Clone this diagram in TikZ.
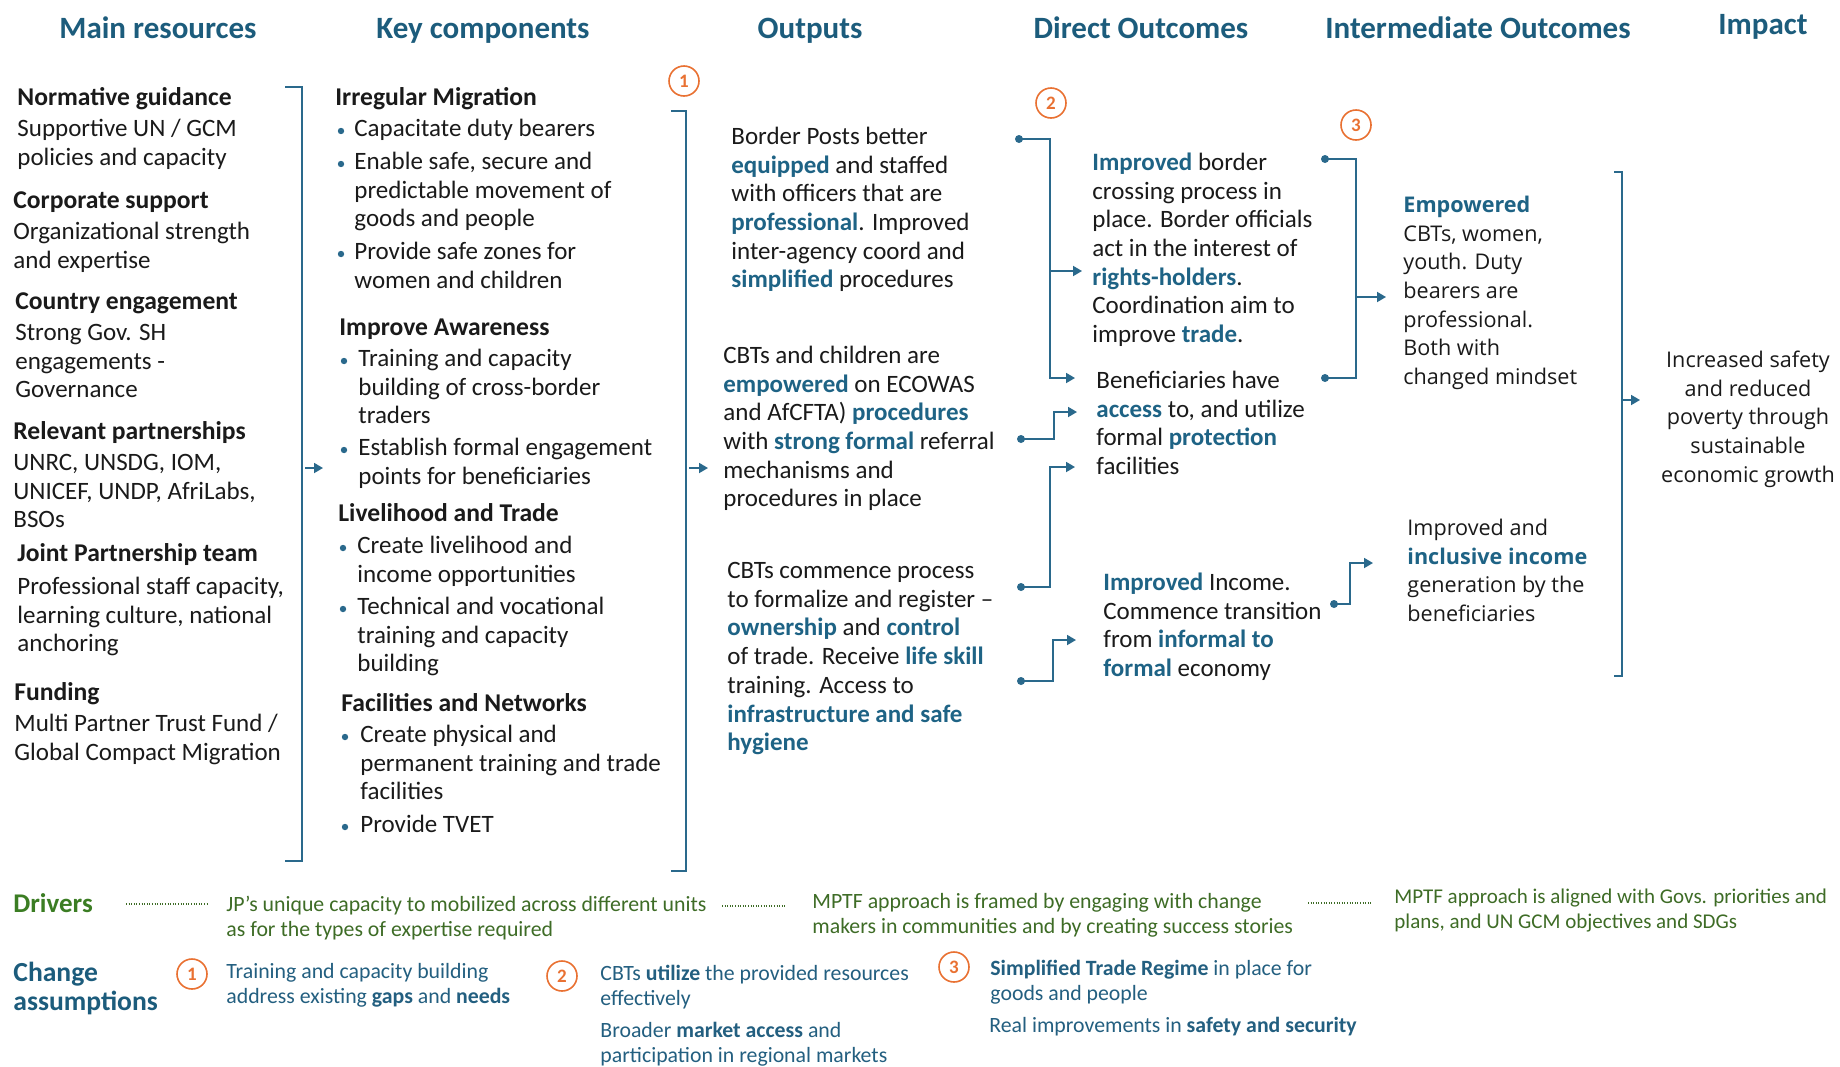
\documentclass[tikz,border=0pt]{standalone}
\usepackage{fontspec}
\setmainfont{Carlito}
\newfontfamily\widefont{Open Sans}
\usetikzlibrary{arrows.meta}

\definecolor{headc}{RGB}{28,92,124}
\definecolor{hlc}{RGB}{30,99,133}
\definecolor{linec}{RGB}{42,105,140}
\definecolor{orng}{RGB}{233,113,50}
\definecolor{grn}{RGB}{59,125,35}
\definecolor{grntext}{RGB}{62,108,38}
\definecolor{catext}{RGB}{35,95,128}
\definecolor{ink}{RGB}{26,26,26}

\newcommand{\hl}[1]{\textbf{\textcolor{hlc}{#1}}}

\tikzset{
  hdr/.style={font=\fontsize{15.5}{18}\selectfont\bfseries, text=headc, inner sep=0pt, anchor=base},
  ttl/.style={font=\fontsize{12.8}{15}\selectfont\bfseries, text=ink, inner sep=0pt, anchor=base west},
  body/.style={font=\fontsize{12.5}{14.35}\selectfont, text=ink, align=left, inner sep=0pt, anchor=north west},
  wbody/.style={font=\widefont\fontsize{10.8}{14.35}\selectfont, text=ink, align=left, inner sep=0pt, anchor=north west},
  note/.style={font=\fontsize{10.9}{12.5}\selectfont, align=left, inner sep=0pt, anchor=north west},
  rowlabel/.style={font=\fontsize{13.8}{14.5}\selectfont\bfseries, align=left, inner sep=0pt, anchor=north west},
  num/.style={circle, draw=orng, line width=0.8pt, minimum size=15pt, inner sep=0pt, text=orng,
              font=\fontsize{9.5}{11}\selectfont\bfseries},
  link/.style={draw=linec, line width=0.9pt},
  arr/.style={-{Triangle[length=4.5pt,width=5pt]}},
  dotline/.style={draw=grntext, line width=0.7pt, dash pattern=on 0.5pt off 0.8pt},
  bul/.style={fill=linec}
}

\begin{document}
\begin{tikzpicture}[x=0.5pt,y=-0.5pt]
\useasboundingbox (0,0) rectangle (1840,1066);
\fill[white] (0,0) rectangle (1840,1066);

% ---------- column headings ----------
\node[hdr] (h1) at (158,38) {Main resources};
\node[hdr] (h2) at (483,38) {Key components};
\node[hdr] (h3) at (810,38) {Outputs};
\node[hdr] (h4) at (1141,38) {Direct Outcomes};
\node[hdr] (h5) at (1478,38) {Intermediate Outcomes};
\node[hdr] (h6) at (1763,34) {Impact};

% ---------- main resources ----------
\node[ttl] (ng) at (17,105) {Normative guidance};
\node[body] (ngb) at (17,116) {\strut Supportive UN / GCM\\policies and capacity};
\node[ttl] (cs) at (13,208) {Corporate support};
\node[body] (csb) at (13,219) {\strut Organizational strength\\and expertise};
\node[ttl] (ce) at (15,309) {Country engagement};
\node[body] (ceb) at (15,320) {\strut Strong Gov. SH\\engagements -\\Governance};
\node[ttl] (rp) at (13,439) {Relevant partnerships};
\node[body] (rpb) at (13,450) {\strut UNRC, UNSDG, IOM,\\UNICEF, UNDP, AfriLabs,\\BSOs};
\node[ttl] (jp) at (17,561) {Joint Partnership team};
\node[body] (jpb) at (17,574) {\strut Professional staff capacity,\\learning culture, national\\anchoring};
\node[ttl] (fu) at (14,700) {Funding};
\node[body] (fub) at (14,711) {\strut Multi Partner Trust Fund /\\Global Compact Migration};

% ---------- key components ----------
\node[ttl] (im) at (335,105) {Irregular Migration};
\node[body] (im1) at (354,116) {\strut Capacitate duty bearers};
\node[body] (im2) at (354,149) {\strut Enable safe, secure and\\predictable movement of\\goods and people};
\node[body] (im3) at (354,239) {\strut Provide safe zones for\\women and children};
\fill[bul] (341,131) circle[radius=1.6pt];
\fill[bul] (341,164) circle[radius=1.6pt];
\fill[bul] (341,254) circle[radius=1.6pt];

\node[ttl] (ia) at (339,335) {Improve Awareness};
\node[body] (ia1) at (358,346) {\strut Training and capacity\\building of cross-border\\traders};
\node[body] (ia2) at (358,435) {\strut Establish formal engagement\\points for beneficiaries};
\fill[bul] (344,361) circle[radius=1.6pt];
\fill[bul] (344,450) circle[radius=1.6pt];

\node[ttl] (lt) at (338,521) {Livelihood and Trade};
\node[body] (lt1) at (357,533) {\strut Create livelihood and\\income opportunities};
\node[body] (lt2) at (357,594) {\strut Technical and vocational\\training and capacity\\building};
\fill[bul] (343,548) circle[radius=1.6pt];
\fill[bul] (343,609) circle[radius=1.6pt];

\node[ttl] (fn) at (341,711) {Facilities and Networks};
\node[body] (fn1) at (360,722) {\strut Create physical and\\permanent training and trade\\facilities};
\node[body] (fn2) at (360,812) {\strut Provide TVET};
\fill[bul] (345,737) circle[radius=1.6pt];
\fill[bul] (345,827) circle[radius=1.6pt];

% ---------- outputs ----------
\node[body] (o1) at (731,124) {\strut Border Posts better\\\hl{equipped} and staffed\\with officers that are\\\hl{professional}. Improved\\inter-agency coord and\\\hl{simplified} procedures};
\node[body] (o2) at (723,343) {\strut CBTs and children are\\\hl{empowered} on ECOWAS\\and AfCFTA) \hl{procedures}\\with \hl{strong formal} referral\\mechanisms and\\procedures in place};
\node[body] (o3) at (727,558) {\strut CBTs commence process\\to formalize and register --\\\hl{ownership} and \hl{control}\\of trade. Receive \hl{life skill}\\training. Access to\\\hl{infrastructure and safe}\\\hl{hygiene}};

% ---------- direct outcomes ----------
\node[body] (d1) at (1092,150) {\strut \hl{Improved} border\\crossing process in\\place. Border officials\\act in the interest of\\\hl{rights-holders}.\\Coordination aim to\\improve \hl{trade}.};
\node[body] (d2) at (1096,368) {\strut Beneficiaries have\\\hl{access} to, and utilize\\formal \hl{protection}\\facilities};
\node[body] (d3) at (1103,570) {\strut \hl{Improved} Income.\\Commence transition\\from \hl{informal to}\\\hl{formal} economy};

% ---------- intermediate outcomes ----------
\node[wbody] (i1) at (1403,192) {\strut \hl{Empowered}\\CBTs, women,\\youth. Duty\\bearers are\\professional.\\Both with\\changed mindset};
\node[wbody] (i2) at (1407,515) {\strut Improved and\\\hl{inclusive income}\\generation by the\\beneficiaries};

% ---------- impact ----------
\node[wbody, align=center, anchor=north] (imp) at (1748,347) {\strut Increased safety\\and reduced\\poverty through\\sustainable\\economic growth};

% ---------- numbered markers ----------
\node[num] (c1) at (684,81) {1};
\node[num] (c2) at (1051,103) {2};
\node[num] (c3) at (1356,125) {3};

% ---------- brackets ----------
\coordinate (lbT) at (285,87);  \coordinate (lbB) at (285,861);
\draw[link] (lbT) -- (302,87) -- (302,861) -- (lbB);
\coordinate (lbA) at (305,468); \coordinate (lbE) at (323,468);
\draw[link,arr] (lbA) -- (lbE);

\coordinate (kbT) at (671,111); \coordinate (kbB) at (671,871);
\draw[link] (kbT) -- (686,111) -- (686,871) -- (kbB);
\coordinate (kbA) at (689,468); \coordinate (kbE) at (708,468);
\draw[link,arr] (kbA) -- (kbE);

\coordinate (pbT) at (1614,172); \coordinate (pbB) at (1614,676);
\draw[link] (pbT) -- (1622,172) -- (1622,676) -- (pbB);
\coordinate (pbA) at (1622,400); \coordinate (pbE) at (1640,400);
\draw[link,arr] (pbA) -- (pbE);

% ---------- output -> direct outcome links ----------
\coordinate (oa) at (1019,139); \coordinate (oaE) at (1075,378);
\draw[link,arr] (oa) -- (1050,139) -- (1050,378) -- (oaE);
\coordinate (obr) at (1051,271); \coordinate (obrE) at (1082,271);
\draw[link,arr] (obr) -- (obrE);
\fill[linec] (oa) circle[radius=2pt];

\coordinate (ob) at (1021,439); \coordinate (obE) at (1077,412);
\draw[link,arr] (ob) -- (1054,439) -- (1054,412) -- (obE);
\fill[linec] (ob) circle[radius=2pt];

\coordinate (oc) at (1021,587); \coordinate (ocE) at (1075,467);
\draw[link,arr] (oc) -- (1050,587) -- (1050,467) -- (ocE);
\fill[linec] (oc) circle[radius=2pt];

\coordinate (od) at (1021,681); \coordinate (odE) at (1076,640);
\draw[link,arr] (od) -- (1053,681) -- (1053,640) -- (odE);
\fill[linec] (od) circle[radius=2pt];

% ---------- direct -> intermediate links ----------
\coordinate (da) at (1325,159); \coordinate (db) at (1325,378);
\draw[link] (da) -- (1356,159) -- (1356,378) -- (db);
\fill[linec] (da) circle[radius=2pt];
\fill[linec] (db) circle[radius=2pt];
\coordinate (dbr) at (1357,297); \coordinate (dbrE) at (1386,297);
\draw[link,arr] (dbr) -- (dbrE);

\coordinate (dc) at (1334,604); \coordinate (dcE) at (1373,563);
\draw[link,arr] (dc) -- (1350,604) -- (1350,563) -- (dcE);
\fill[linec] (dc) circle[radius=2pt];

% ---------- drivers ----------
\node[font=\fontsize{13.5}{15}\selectfont\bfseries, text=grn, inner sep=0pt, anchor=base west] (drv) at (13,912) {Drivers};
\coordinate (dl1a) at (126,904); \coordinate (dl1b) at (208,904);
\draw[dotline] (dl1a) -- (dl1b);
\node[note, text=grntext] (dr1) at (226,894) {\strut JP’s unique capacity to mobilized across different units\\as for the types of expertise required};
\coordinate (dl2a) at (722,906); \coordinate (dl2b) at (786,906);
\draw[dotline] (dl2a) -- (dl2b);
\node[note, text=grntext] (dr2) at (812,891) {\strut MPTF approach is framed by engaging with change\\makers in communities and by creating success stories};
\coordinate (dl3a) at (1308,903); \coordinate (dl3b) at (1371,903);
\draw[dotline] (dl3a) -- (dl3b);
\node[note, text=grntext, font=\fontsize{10.5}{12.5}\selectfont] (dr3) at (1394,886) {\strut MPTF approach is aligned with Govs. priorities and\\plans, and UN GCM objectives and SDGs};

% ---------- change assumptions ----------
\node[rowlabel, text=headc] (ca) at (13,961) {\strut Change\\assumptions};
\node[num] (b1) at (192,974) {1};
\node[note, text=catext] (ca1) at (226,961) {\strut Training and capacity building\\address existing \textbf{gaps} and \textbf{needs}};
\node[num] (b2) at (562,976) {2};
\node[note, text=catext] (ca2) at (600,963) {\strut CBTs \textbf{utilize} the provided resources\\effectively};
\node[note, text=catext] (ca3) at (600,1020) {\strut Broader \textbf{market access} and\\participation in regional markets};
\node[num] (b3) at (954,967) {3};
\node[note, text=catext] (ca4) at (990,958) {\strut \textbf{Simplified Trade Regime} in place for\\goods and people};
\node[note, text=catext] (ca5) at (989,1015) {\strut Real improvements in \textbf{safety and security}};

\end{tikzpicture}
\end{document}
